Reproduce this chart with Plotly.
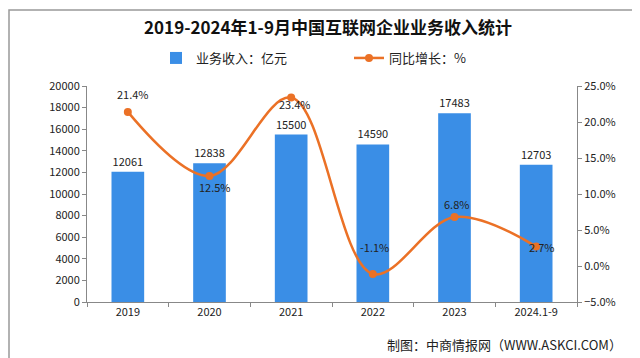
import plotly.graph_objects as go

categories = ["2019", "2020", "2021", "2022", "2023", "2024.1-9"]
revenue = [12061, 12838, 15500, 14590, 17483, 12703]
growth = [21.4, 12.5, 23.4, -1.1, 6.8, 2.7]
growth_labels = ["21.4%", "12.5%", "23.4%", "-1.1%", "6.8%", "2.7%"]
label_shift = [(5, 18), (5, -11), (4, -6), (2, 27), (2, 13), (5, 0)]

BAR = "#3A8EE6"
LINE = "#EB7126"
FONT = "Noto Sans CJK SC"

L, R, T, B = 79, 71, 78, 64
PW, PH = 640 - L - R, 358 - T - B

fig = go.Figure()
fig.add_trace(go.Bar(
    x=categories, y=revenue, name="业务收入：亿元",
    marker=dict(color=BAR, line=dict(width=0)),
    text=[str(v) for v in revenue], textposition="outside",
    textfont=dict(size=11, color="#222222", family=FONT),
    cliponaxis=False,
))
fig.add_trace(go.Scatter(
    x=categories, y=growth, name="同比增长：%", yaxis="y2",
    mode="lines+markers",
    line=dict(color=LINE, width=2.5, shape="spline", smoothing=1.0),
    marker=dict(color=LINE, size=8),
))

for i, (g, lab, (dx, dy)) in enumerate(zip(growth, growth_labels, label_shift)):
    fig.add_annotation(x=i, y=g, xref="x", yref="y2", text=lab, showarrow=False,
                       xshift=dx, yshift=dy,
                       font=dict(size=11, color="#222222", family=FONT))

fig.add_annotation(x=(616 - L) / PW, y=-(336 - (358 - B)) / PH, xref="paper", yref="paper",
                   text="制图：中商情报网（WWW.ASKCI.COM）", showarrow=False,
                   xanchor="right", yanchor="middle",
                   font=dict(size=13, color="#222222", family=FONT))

fig.add_shape(type="rect", xref="paper", yref="paper",
              x0=-(L - 1) / PW, x1=(636 - L) / PW, y0=-(B - 3) / PH, y1=1 + (T - 2) / PH,
              line=dict(color="#999999", width=1.5))

fig.update_layout(
    width=640, height=358,
    margin=dict(l=L, r=R, t=T, b=B, autoexpand=False),
    paper_bgcolor="white", plot_bgcolor="white",
    font=dict(family=FONT, size=11, color="#222222"),
    title=dict(text="<b>2019-2024年1-9月中国互联网企业业务收入统计</b>",
               x=0.5, xanchor="center", y=1 - 20/358, yanchor="middle",
               font=dict(size=17, color="#111111", family=FONT)),
    bargap=0.6,
    showlegend=True,
    legend=dict(orientation="h", x=(148 - L) / PW, xanchor="left",
                y=1 + (T - 50) / PH, yanchor="middle",
                font=dict(size=13, color="#222222", family=FONT),
                traceorder="normal", entrywidthmode="pixels", entrywidth=148),
    xaxis=dict(type="category", range=[-0.5, 5.5], showline=True, linecolor="#888888", linewidth=1,
               ticks="outside", ticklen=4, tickcolor="#888888",
               tickson="boundaries", showgrid=False, tickangle=0,
               tickfont=dict(size=11, color="#222222")),
    yaxis=dict(range=[0, 20000], dtick=2000, tickformat="d", showline=True, linecolor="#888888",
               linewidth=1, ticks="outside", ticklen=4, tickcolor="#888888",
               showgrid=False, zeroline=False, tickfont=dict(size=11, color="#222222")),
    yaxis2=dict(range=[-5, 25], dtick=5, overlaying="y", side="right",
                showline=True, linecolor="#888888", linewidth=1, ticks="outside",
                ticklen=4, tickcolor="#888888", showgrid=False, zeroline=False,
                tickformat=".1f", ticksuffix="%", tickfont=dict(size=11, color="#222222")),
)

fig.write_html("out.html")
